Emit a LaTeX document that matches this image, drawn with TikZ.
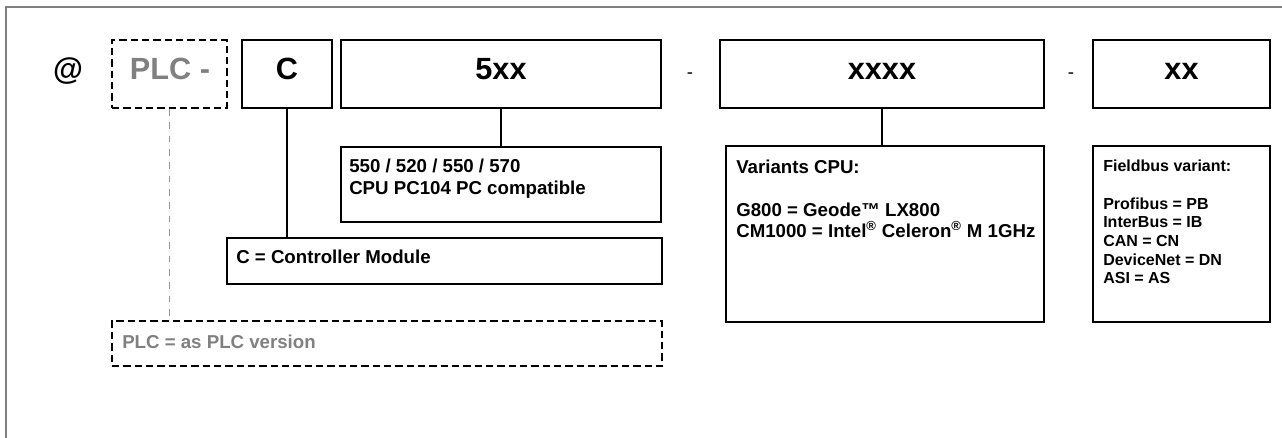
\documentclass[tikz,border=0pt]{standalone}
\usepackage{fontspec}
\setmainfont{Liberation Sans}
\usetikzlibrary{fit}
\definecolor{plcgray}{RGB}{128,128,128}
\definecolor{linkgray}{RGB}{150,150,150}

\begin{document}
\begin{tikzpicture}[x=0.75pt, y=-0.75pt,
	codebox/.style={draw, line width=1.3pt, inner sep=0pt},
	optbox/.style={codebox, dash pattern=on 5.5pt off 3pt},
	link/.style={line width=1pt},
	big/.style={font=\fontsize{23}{27}\selectfont\bfseries, inner sep=0pt, anchor=base},
	sep/.style={font=\fontsize{14}{16}\selectfont, inner sep=0pt, anchor=base},
	mid/.style={font=\fontsize{14}{16}\selectfont\bfseries, inner sep=0pt, anchor=north west, align=left},
	small/.style={font=\fontsize{12}{14}\selectfont\bfseries, inner sep=0pt, anchor=north west, align=left}]
	\useasboundingbox (0,0) rectangle (1282,438);
	\draw[gray, line width=0.8pt] (6,438) |- (1282,7);

	\node[optbox, fit={(112,40) (227,108)}] (plcbox) {};
	\node[codebox, fit={(242,40) (332,108)}] (cbox) {};
	\node[codebox, fit={(341,40) (661,108)}] (typebox) {};
	\node[codebox, fit={(720,40) (1044,108)}] (cpubox) {};
	\node[codebox, fit={(1093,40) (1270,108)}] (busbox) {};

	\node[big] (atsign) at (68,80) {@};
	\node[big, text=plcgray] (plctext) at (170,80) {PLC -};
	\node[big] (ctext) at (287,80) {C};
	\node[big] (typetext) at (501,80) {5xx};
	\node[sep] (sepa) at (690,79) {-};
	\node[big] (cputext) at (882,80) {xxxx};
	\node[sep] (sepb) at (1071,79) {-};
	\node[big] (bustext) at (1181.5,80) {xx};

	\node[codebox, fit={(341,147) (661,222)}] (typenote) {};
	\node[mid] (typelines) at (349,159) {550 / 520 / 550 / 570\\CPU PC104 PC compatible};
	\node[codebox, fit={(227,238) (662,284)}] (cnote) {};
	\node[mid] (clines) at (236,250) {C = Controller Module};
	\node[codebox, fit={(726,146) (1044,322)}] (cpunote) {};
	\node[mid] (cpulines) at (736,160) {Variants CPU:\\[16pt]G800 = Geode™ LX800\\CM1000 = Intel\textsuperscript{®} Celeron\textsuperscript{®} M 1GHz};
	\node[codebox, fit={(1093,146) (1270,322)}] (busnote) {};
	\node[small] (buslines) at (1103,160) {Fieldbus variant:\\[14pt]Profibus = PB\\InterBus = IB\\CAN = CN\\DeviceNet = DN\\ASI = AS};
	\node[optbox, fit={(112,321) (662,366)}] (plcnote) {};
	\node[mid, text=plcgray] (plclines) at (122,335) {PLC = as PLC version};

	\draw[link] (cbox.south) -- (cbox.south |- cnote.north);
	\draw[link] (typebox.south) -- (typebox.south |- typenote.north);
	\draw[link] (cpubox.south) -- (cpubox.south |- cpunote.north);
	\draw[link, linkgray, line width=1.2pt, dash pattern=on 5pt off 5pt] (plcbox.south) -- (plcbox.south |- plcnote.north);
\end{tikzpicture}
\end{document}
